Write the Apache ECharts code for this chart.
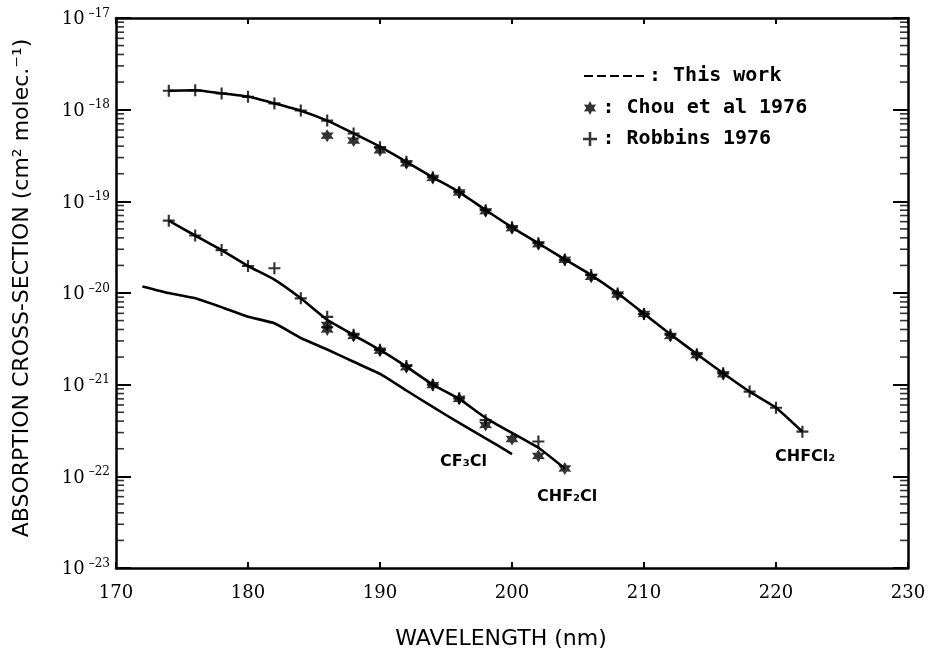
<!DOCTYPE html>
<html><head><meta charset="utf-8">
<script src="https://cdn.jsdelivr.net/npm/echarts@6/dist/echarts.min.js"></script>
<style>html,body{margin:0;padding:0;background:#fff}#c{width:933px;height:656px}</style>
</head><body><div id="c"></div>
<script>
// ---- data (wavelength nm, cross-section cm^2 molec^-1) ----
const wlCHFCl2 = [174,176,178,180,182,184,186,188,190,192,194,196,198,200,202,204,206,208,210,212,214,216,218,220,222];
const workCHFCl2 = [1.61e-18,1.63e-18,1.51e-18,1.39e-18,1.17e-18,9.75e-19,7.59e-19,5.52e-19,3.95e-19,2.70e-19,1.83e-19,1.26e-19,8.05e-20,5.21e-20,3.49e-20,2.33e-20,1.57e-20,9.93e-21,5.95e-21,3.55e-21,2.16e-21,1.33e-21,8.38e-22,5.61e-22,3.07e-22];

const wlCHF2Cl = [174,176,178,180,182,184,186,188,190,192,194,196,198,200,202,204];
const workCHF2Cl = [6.15e-20,4.24e-20,2.94e-20,1.97e-20,1.40e-20,8.75e-21,5.10e-21,3.48e-21,2.39e-21,1.57e-21,1.00e-21,7.00e-22,4.35e-22,2.97e-22,2.05e-22,1.22e-22];

const wlCF3Cl = [172,174,176,178,180,182,184,186,188,190,192,194,196,198,200];
const workCF3Cl = [1.18e-20,9.98e-21,8.75e-21,7.00e-21,5.51e-21,4.67e-21,3.23e-21,2.42e-21,1.78e-21,1.31e-21,8.64e-22,5.71e-22,3.82e-22,2.60e-22,1.75e-22];

const chouWlCHFCl2 = [186,188,190,192,194,196,198,200,202,204,206,208,210,212,214,216];
const chouCHFCl2 = [5.2e-19,4.6e-19,3.6e-19,2.6e-19,1.8e-19,1.25e-19,7.8e-20,5.1e-20,3.4e-20,2.3e-20,1.5e-20,9.6e-21,5.9e-21,3.4e-21,2.1e-21,1.3e-21];
const chouWlCHF2Cl = [186,186,188,190,192,194,196,198,200,202,204];
const chouCHF2Cl = [4.48e-21,4.0e-21,3.4e-21,2.35e-21,1.55e-21,9.9e-22,7.0e-22,3.63e-22,2.55e-22,1.67e-22,1.22e-22];

const robWlCHFCl2 = [174,176,178,180,182,184,186,188,190,192,194,196,198,200,202,204,206,208,210,212,214,216,218,220,222];
const robCHFCl2 = [1.61e-18,1.63e-18,1.50e-18,1.38e-18,1.17e-18,9.8e-19,7.6e-19,5.5e-19,3.9e-19,2.7e-19,1.83e-19,1.26e-19,8.0e-20,5.2e-20,3.5e-20,2.3e-20,1.57e-20,9.9e-21,5.9e-21,3.5e-21,2.15e-21,1.33e-21,8.4e-22,5.6e-22,3.07e-22];
const robWlCHF2Cl = [174,176,178,180,182,184,186,188,190,192,194,196,198,202];
const robCHF2Cl = [6.15e-20,4.24e-20,2.94e-20,1.97e-20,1.86e-20,8.75e-21,5.5e-21,3.5e-21,2.4e-21,1.6e-21,1.0e-21,7.1e-22,4.1e-22,2.4e-22];

const decades = [-23,-22,-21,-20,-19,-18];
const minorMult = [2,3,4,5,6,7,8,9];
const curveLabels = ['CF\u2083Cl','CHF\u2082Cl','CHFCl\u2082'];
const yTitle = 'ABSORPTION CROSS-SECTION (cm\u00b2 molec.\u207b\u00b9)';
const xTitle = 'WAVELENGTH (nm)';

const zip = (xs, ys) => xs.map((x, i) => [x, ys[i]]);
const minorVals = [];
decades.forEach(d => minorMult.forEach(m => minorVals.push(m * Math.pow(10, d))));

const STAR = 'path://M10,0 L12.75,5.24 L18.66,5 L15.5,10 L18.66,15 L12.75,14.76 L10,20 L7.25,14.76 L1.34,15 L4.5,10 L1.34,5 L7.25,5.24 Z';
const PLUS = 'path://M4.1,0H5.9V4.1H10V5.9H5.9V10H4.1V5.9H0V4.1H4.1Z';

const chart = echarts.init(document.getElementById('c'), null, {renderer: 'canvas'});
const lineStyle = {color: '#000', width: 2.6};
const axisLine = {show: true, onZero: false, lineStyle: {color: '#000', width: 2.5}};

function workSeries(xs, ys) {
  return {name: 'This work', type: 'line', data: zip(xs, ys), symbol: 'none', smooth: 0.15,
          lineStyle: lineStyle, itemStyle: {color: '#000'}, z: 3, silent: true};
}
function markSeries(name, xs, ys, sym, size) {
  return {name: name, type: 'scatter', data: zip(xs, ys), symbol: sym, symbolSize: size,
          itemStyle: {color: '#000'}, z: 4, silent: true};
}

chart.setOption({
  animation: false,
  backgroundColor: '#fff',
  grid: {left: 116, right: 25, top: 18, bottom: 88, containLabel: false, outerBoundsMode: 'none'},
  xAxis: [
    {type: 'value', min: 170, max: 230, interval: 10, position: 'bottom',
     axisLine: axisLine, splitLine: {show: false},
     axisTick: {inside: true, length: 6, lineStyle: {color: '#000', width: 2}},
     axisLabel: {color: '#000', fontFamily: 'DejaVu Serif', fontSize: 18, margin: 16},
     name: xTitle, nameLocation: 'middle', nameGap: 60,
     nameTextStyle: {color: '#000', fontFamily: 'DejaVu Sans', fontSize: 22, padding: [0, 22, 0, 0]}},
    {type: 'value', min: 170, max: 230, interval: 10, position: 'top',
     axisLine: axisLine, splitLine: {show: false},
     axisTick: {inside: true, length: 6, lineStyle: {color: '#000', width: 2}},
     axisLabel: {show: false}}
  ],
  yAxis: [
    {type: 'log', logBase: 10, min: 9.9999e-24, max: 1e-17, position: 'left',
     axisLine: axisLine, splitLine: {show: false},
     axisTick: {inside: true, length: 15, lineStyle: {color: '#000', width: 2}},
     axisLabel: {color: '#000', margin: 6, showMinLabel: true, showMaxLabel: true,
       formatter: v => '{b|10}{s|\u2013' + String(-Math.round(Math.log10(v))) + '}',
       rich: {b: {fontFamily: 'DejaVu Serif', fontSize: 18, color: '#000', verticalAlign: 'bottom'},
              s: {fontFamily: 'DejaVu Serif', fontSize: 12, color: '#000', verticalAlign: 'bottom', padding: [0, 0, 9, 4]}}}},
    {type: 'log', logBase: 10, min: 9.9999e-24, max: 1e-17, position: 'right',
     axisLine: axisLine, splitLine: {show: false},
     axisTick: {inside: true, length: 15, lineStyle: {color: '#000', width: 2}},
     axisLabel: {show: false}}
  ],
  legend: [
    {data: [{name: 'This work', itemStyle: {opacity: 0}}], left: 578, top: 61, itemWidth: 60, itemHeight: 14,
     lineStyle: {type: [9, 4], width: 2, color: '#000'},
     formatter: n => ': ' + n, selectedMode: false,
     textStyle: {color: '#000', fontFamily: 'DejaVu Sans Mono', fontWeight: 'bold', fontSize: 20}},
    {data: ['Chou et al 1976', 'Robbins 1976'], orient: 'vertical', left: 578, top: 93, itemGap: 11,
     itemWidth: 15, itemHeight: 14, selectedMode: false,
     formatter: n => ': ' + n,
     textStyle: {color: '#000', fontFamily: 'DejaVu Sans Mono', fontWeight: 'bold', fontSize: 20}}
  ],
  graphic: [
    {type: 'text', x: 22, y: 288, rotation: Math.PI / 2,
     style: {text: yTitle, font: '22px "DejaVu Sans"', fill: '#000', align: 'center', verticalAlign: 'middle'}},
    {type: 'text', left: 440, top: 454, style: {text: curveLabels[0], font: 'bold 16px "DejaVu Sans"', fill: '#000'}},
    {type: 'text', left: 537, top: 489, style: {text: curveLabels[1], font: 'bold 16px "DejaVu Sans"', fill: '#000'}},
    {type: 'text', left: 775, top: 449, style: {text: curveLabels[2], font: 'bold 16px "DejaVu Sans"', fill: '#000'}}
  ],
  series: [
    workSeries(wlCHFCl2, workCHFCl2),
    workSeries(wlCHF2Cl, workCHF2Cl),
    workSeries(wlCF3Cl, workCF3Cl),
    markSeries('Chou et al 1976', chouWlCHFCl2, chouCHFCl2, STAR, 13),
    markSeries('Chou et al 1976', chouWlCHF2Cl, chouCHF2Cl, STAR, 13),
    markSeries('Robbins 1976', robWlCHFCl2, robCHFCl2, PLUS, 12),
    markSeries('Robbins 1976', robWlCHF2Cl, robCHF2Cl, PLUS, 12),
    {name: 'minorL', type: 'scatter', silent: true, clip: false, symbol: 'rect', symbolSize: [8, 1.6],
     symbolOffset: [4, 0], itemStyle: {color: '#000'}, data: minorVals.map(v => [170, v]), z: 5},
    {name: 'minorR', type: 'scatter', silent: true, clip: false, symbol: 'rect', symbolSize: [8, 1.6],
     symbolOffset: [-4, 0], itemStyle: {color: '#000'}, data: minorVals.map(v => [230, v]), z: 5}
  ]
});
</script></body></html>
